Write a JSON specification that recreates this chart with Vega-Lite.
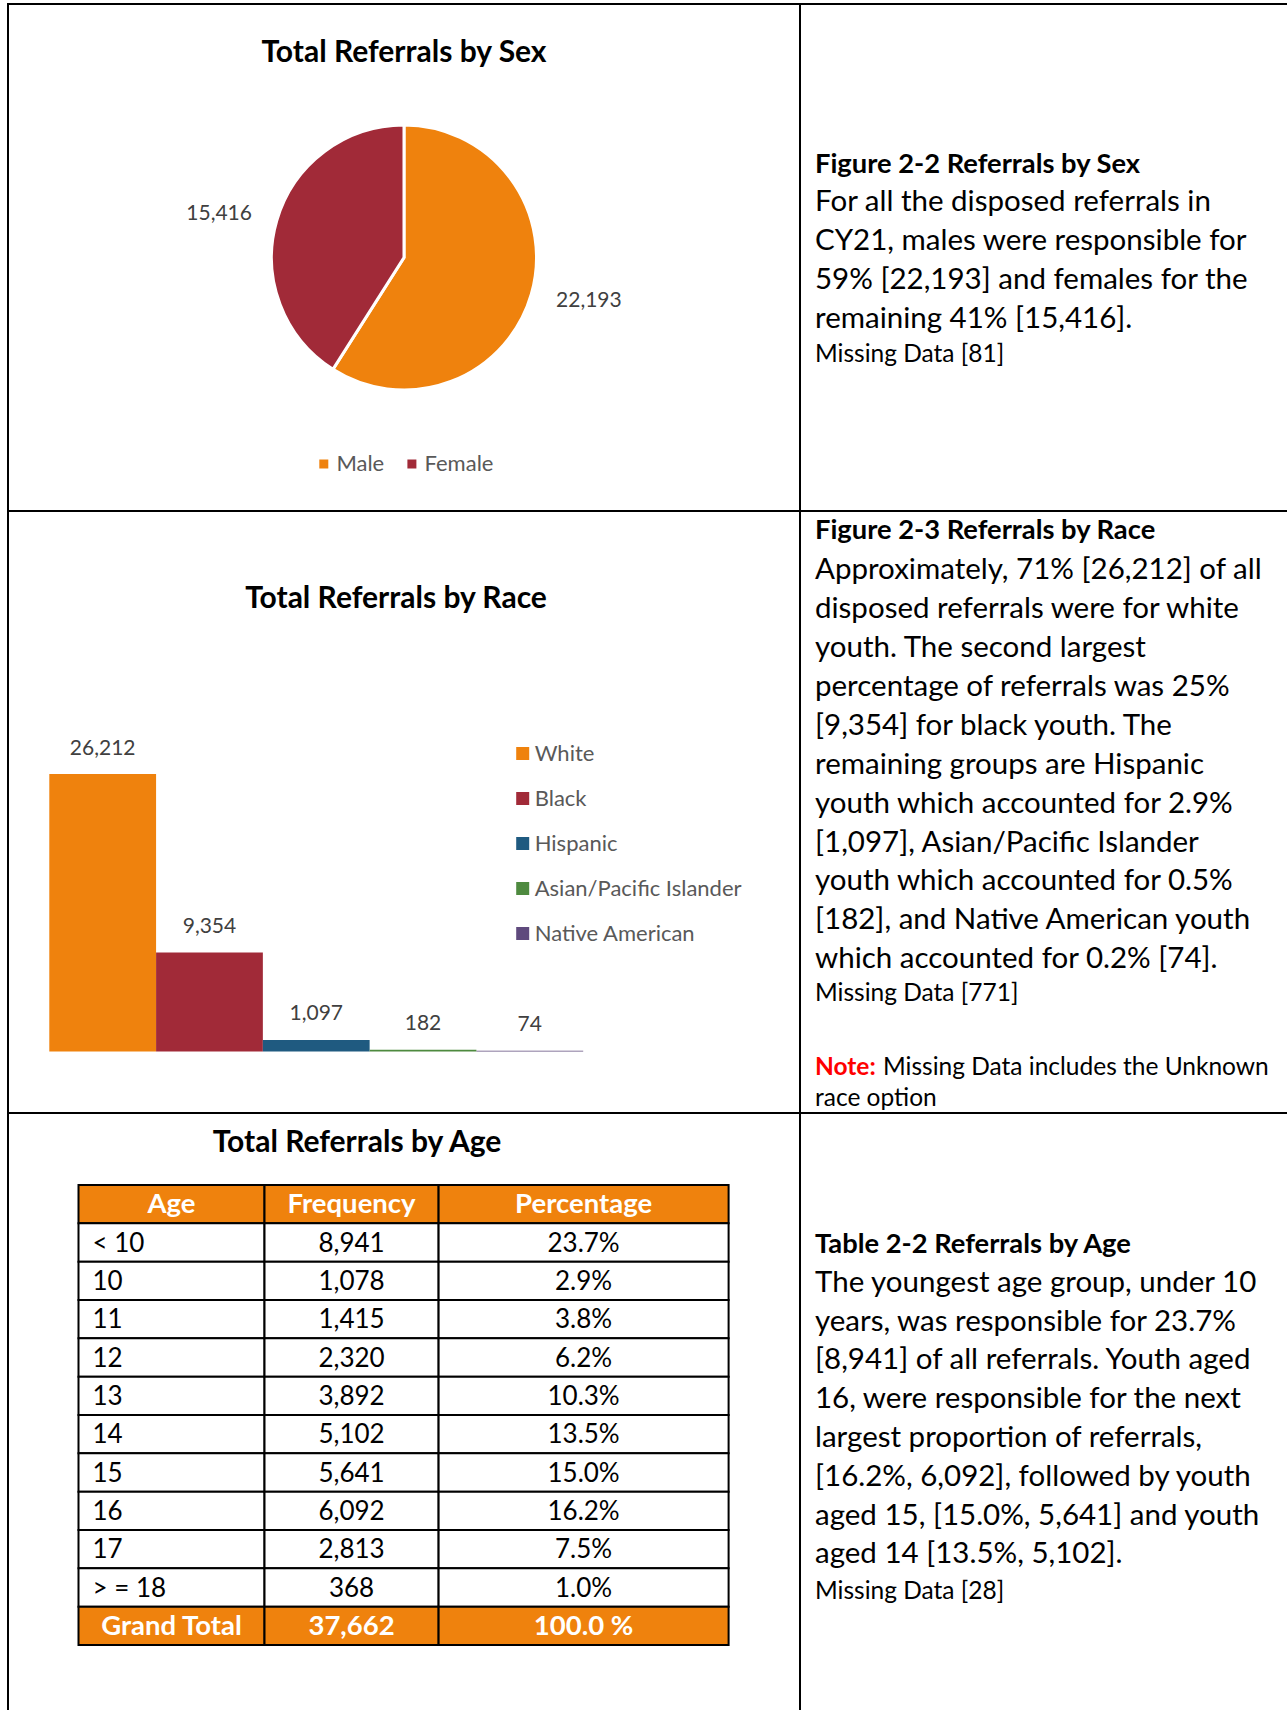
{
  "$schema": "https://vega.github.io/schema/vega-lite/v6.json",
  "background": "white",
  "padding": {"left": 7, "top": 3, "right": 0, "bottom": 0},
  "columns": 2,
  "spacing": 0,
  "bounds": "flush",
  "align": "each",
  "resolve": {"scale": {"color": "independent", "theta": "independent"}, "legend": {"color": "independent"}},
  "config": {
    "font": "Lato",
    "view": {"stroke": "black", "strokeWidth": 2},
    "title": {"font": "Lato", "fontWeight": "bold", "fontSize": 30, "color": "black", "anchor": "middle", "frame": "group", "baseline": "middle"}
  },
  "concat": [
        {
          "width": 792,
          "height": 507,
          "view": {"stroke": "black", "strokeWidth": 2},
          "title": {"text": "Total Referrals by Sex", "offset": -63.6},
          "data": {"values": [{"sex": "Male", "count": 22193}, {"sex": "Female", "count": 15416}]},
          "encoding": {
            "order": {"field": "sex", "sort": "descending"},
            "color": {
              "field": "sex",
              "type": "nominal",
              "scale": {"domain": ["Male", "Female"], "range": ["#EF820D", "#A12A38"]},
              "legend": {"orient": "none", "legendX": 304.8, "legendY": 449, "direction": "horizontal", "title": null, "symbolType": "square", "symbolSize": 81, "symbolStrokeWidth": 0, "labelFontSize": 22, "labelColor": "#595959", "labelOffset": 1.6, "columnPadding": 16.1, "padding": 0, "labelLimit": 300}
            }
          },
          "resolve": {"scale": {"theta": "independent"}},
          "layer": [
            {
              "mark": {"type": "arc", "radius": 132.5, "stroke": "white", "strokeWidth": 3},
              "encoding": {"theta": {"field": "count", "type": "quantitative", "stack": true}}
            },
            {
              "mark": {"type": "text", "radius": 190, "fontSize": 21},
              "encoding": {
                "theta": {"field": "count", "type": "quantitative", "stack": true, "scale": {"range": [-0.05, 6.2332]}},
                "text": {"field": "count", "type": "quantitative", "format": ","},
                "color": {"value": "#404040"}
              }
            }
          ]
        },
        {
          "width": 487,
          "height": 507,
          "view": {"stroke": "black", "strokeWidth": 2, "strokeDash": [487, 507]},
          "layer": [
            {
              "data": {"values": [{"line": 0, "text": "Figure 2-2 Referrals by Sex"}]},
              "mark": {"type": "text", "align": "left", "baseline": "middle", "fontWeight": "bold", "fontSize": 27.3, "color": "black", "dy": 2},
              "encoding": {
                "x": {"value": 15},
                "y": {"field": "line", "type": "quantitative", "scale": {"domain": [0, 1], "range": [158.5, 197.7], "zero": false, "nice": false}, "axis": null},
                "text": {"field": "text"}
              }
            },
            {
              "data": {"values": [
                {"line": 1, "text": "For all the disposed referrals in"},
                {"line": 2, "text": "CY21, males were responsible for"},
                {"line": 3, "text": "59% [22,193] and females for the"},
                {"line": 4, "text": "remaining 41% [15,416]."}
              ]},
              "mark": {"type": "text", "align": "left", "baseline": "middle", "fontSize": 29.5, "color": "black"},
              "encoding": {
                "x": {"value": 15},
                "y": {"field": "line", "type": "quantitative", "scale": {"domain": [0, 1], "range": [158.5, 197.7], "zero": false, "nice": false}, "axis": null},
                "text": {"field": "text"}
              }
            },
            {
              "data": {"values": [{"line": 5, "text": "Missing Data [81]"}]},
              "mark": {"type": "text", "align": "left", "baseline": "middle", "fontSize": 24.5, "color": "black", "dy": -4},
              "encoding": {
                "x": {"value": 15},
                "y": {"field": "line", "type": "quantitative", "scale": {"domain": [0, 1], "range": [158.5, 197.7], "zero": false, "nice": false}, "axis": null},
                "text": {"field": "text"}
              }
            }
          ]
        },
        {
          "width": 792,
          "height": 602,
          "view": {"stroke": "black", "strokeWidth": 2},
          "title": {"text": "Total Referrals by Race", "offset": -103.2, "dx": -8},
          "data": {"values": [
            {"race": "White", "count": 26212},
            {"race": "Black", "count": 9354},
            {"race": "Hispanic", "count": 1097},
            {"race": "Asian/Pacific Islander", "count": 182},
            {"race": "Native American", "count": 74}
          ]},
          "encoding": {
            "x": {"field": "race", "type": "nominal", "sort": null, "scale": {"range": [41.3, 575.2], "paddingInner": 0, "paddingOuter": 0}, "axis": null},
            "y": {"field": "count", "type": "quantitative", "scale": {"domain": [0, 26212], "range": [540.6, 263], "nice": false, "zero": true}, "axis": null}
          },
          "layer": [
            {
              "mark": {"type": "bar"},
              "encoding": {
                "color": {
                  "field": "race",
                  "type": "nominal",
                  "scale": {"domain": ["White", "Black", "Hispanic", "Asian/Pacific Islander", "Native American"], "range": ["#EF820D", "#A12A38", "#1F5A80", "#4E8A3F", "#5F4A7D"]},
                  "legend": {"orient": "none", "legendX": 503.7, "legendY": 231.5, "direction": "vertical", "title": null, "symbolType": "square", "symbolSize": 169, "symbolStrokeWidth": 0, "labelFontSize": 22, "labelColor": "#595959", "labelOffset": 1, "rowPadding": 23, "padding": 0, "labelLimit": 400}
                }
              }
            },
            {
              "mark": {"type": "text", "dy": -25.5, "fontSize": 21, "color": "#404040", "baseline": "middle"},
              "encoding": {"text": {"field": "count", "type": "quantitative", "format": ","}}
            }
          ]
        },
        {
          "width": 487,
          "height": 602,
          "view": {"stroke": "black", "strokeWidth": 2, "strokeDash": [487, 602]},
          "layer": [
            {
              "data": {"values": [{"line": 0, "text": "Figure 2-3 Referrals by Race"}]},
              "mark": {"type": "text", "align": "left", "baseline": "middle", "fontWeight": "bold", "fontSize": 27.3, "color": "black", "dy": 1},
              "encoding": {
                "x": {"value": 15},
                "y": {"field": "line", "type": "quantitative", "scale": {"domain": [0, 1], "range": [19.3, 58.2], "zero": false, "nice": false}, "axis": null},
                "text": {"field": "text"}
              }
            },
            {
              "data": {"values": [
                {"line": 1, "text": "Approximately, 71% [26,212] of all"},
                {"line": 2, "text": "disposed referrals were for white"},
                {"line": 3, "text": "youth. The second largest"},
                {"line": 4, "text": "percentage of referrals was 25%"},
                {"line": 5, "text": "[9,354] for black youth. The"},
                {"line": 6, "text": "remaining groups are Hispanic"},
                {"line": 7, "text": "youth which accounted for 2.9%"},
                {"line": 8, "text": "[1,097], Asian/Pacific Islander"},
                {"line": 9, "text": "youth which accounted for 0.5%"},
                {"line": 10, "text": "[182], and Native American youth"},
                {"line": 11, "text": "which accounted for 0.2% [74]."}
              ]},
              "mark": {"type": "text", "align": "left", "baseline": "middle", "fontSize": 29.5, "color": "black", "dy": 1},
              "encoding": {
                "x": {"value": 15},
                "y": {"field": "line", "type": "quantitative", "scale": {"domain": [0, 1], "range": [19.3, 58.2], "zero": false, "nice": false}, "axis": null},
                "text": {"field": "text"}
              }
            },
            {
              "data": {"values": [{"line": 12, "text": "Missing Data [771]"}]},
              "mark": {"type": "text", "align": "left", "baseline": "middle", "fontSize": 24.5, "color": "black", "dy": -3},
              "encoding": {
                "x": {"value": 15},
                "y": {"field": "line", "type": "quantitative", "scale": {"domain": [0, 1], "range": [19.3, 58.2], "zero": false, "nice": false}, "axis": null},
                "text": {"field": "text"}
              }
            },
            {
              "data": {"values": [{"line": 14, "text": "Note:"}]},
              "mark": {"type": "text", "align": "left", "baseline": "middle", "fontSize": 24.5, "fontWeight": "bold", "color": "#FF0000", "dy": -7},
              "encoding": {
                "x": {"value": 15},
                "y": {"field": "line", "type": "quantitative", "scale": {"domain": [0, 1], "range": [19.3, 58.2], "zero": false, "nice": false}, "axis": null},
                "text": {"field": "text"}
              }
            },
            {
              "data": {"values": [{"line": 14, "text": "Missing Data includes the Unknown"}]},
              "mark": {"type": "text", "align": "left", "baseline": "middle", "fontSize": 24.5, "color": "black", "dy": -7, "dx": 68},
              "encoding": {
                "x": {"value": 15},
                "y": {"field": "line", "type": "quantitative", "scale": {"domain": [0, 1], "range": [19.3, 58.2], "zero": false, "nice": false}, "axis": null},
                "text": {"field": "text"}
              }
            },
            {
              "data": {"values": [{"line": 15, "text": "race option"}]},
              "mark": {"type": "text", "align": "left", "baseline": "middle", "fontSize": 24.5, "color": "black", "dy": -15},
              "encoding": {
                "x": {"value": 15},
                "y": {"field": "line", "type": "quantitative", "scale": {"domain": [0, 1], "range": [19.3, 58.2], "zero": false, "nice": false}, "axis": null},
                "text": {"field": "text"}
              }
            }
          ]
        },
        {
          "width": 792,
          "height": 597,
          "view": {"stroke": "black", "strokeWidth": 2, "strokeDash": [1389, 792, 597]},
          "title": {"text": "Total Referrals by Age", "offset": -44.7, "dx": -47},
          "data": {"values": [
            {"age": "Age", "frequency": "Frequency", "percentage": "Percentage"},
            {"age": "< 10", "frequency": "8,941", "percentage": "23.7%"},
            {"age": "10", "frequency": "1,078", "percentage": "2.9%"},
            {"age": "11", "frequency": "1,415", "percentage": "3.8%"},
            {"age": "12", "frequency": "2,320", "percentage": "6.2%"},
            {"age": "13", "frequency": "3,892", "percentage": "10.3%"},
            {"age": "14", "frequency": "5,102", "percentage": "13.5%"},
            {"age": "15", "frequency": "5,641", "percentage": "15.0%"},
            {"age": "16", "frequency": "6,092", "percentage": "16.2%"},
            {"age": "17", "frequency": "2,813", "percentage": "7.5%"},
            {"age": "> = 18", "frequency": "368", "percentage": "1.0%"},
            {"age": "Grand Total", "frequency": "37,662", "percentage": "100.0 %"}
          ]},
          "resolve": {"scale": {"x": "independent"}},
          "encoding": {
            "y": {"field": "age", "type": "nominal", "sort": null, "scale": {"type": "band", "domain": ["Age", "< 10", "10", "11", "12", "13", "14", "15", "16", "17", "> = 18", "Grand Total"], "range": [72, 532], "paddingInner": 0, "paddingOuter": 0}, "axis": null}
          },
          "layer": [
            {
              "mark": {"type": "rect", "stroke": "black", "strokeWidth": 2},
              "encoding": {
                "x": {"datum": "Age", "type": "nominal", "scale": {"type": "band", "range": [70.5, 256.5], "paddingInner": 0, "paddingOuter": 0}, "axis": null},
                "color": {"condition": {"test": "datum.age === 'Age' || datum.age === 'Grand Total'", "value": "#EF820D"}, "value": "white"}
              }
            },
            {
              "mark": {"type": "rect", "stroke": "black", "strokeWidth": 2},
              "encoding": {
                "x": {"datum": "Frequency", "type": "nominal", "scale": {"type": "band", "range": [256.5, 430.6], "paddingInner": 0, "paddingOuter": 0}, "axis": null},
                "color": {"condition": {"test": "datum.age === 'Age' || datum.age === 'Grand Total'", "value": "#EF820D"}, "value": "white"}
              }
            },
            {
              "mark": {"type": "rect", "stroke": "black", "strokeWidth": 2},
              "encoding": {
                "x": {"datum": "Percentage", "type": "nominal", "scale": {"type": "band", "range": [430.6, 720.6], "paddingInner": 0, "paddingOuter": 0}, "axis": null},
                "color": {"condition": {"test": "datum.age === 'Age' || datum.age === 'Grand Total'", "value": "#EF820D"}, "value": "white"}
              }
            },
            {
              "transform": [{"filter": "datum.age !== 'Age' && datum.age !== 'Grand Total'"}],
              "mark": {"type": "text", "align": "left", "baseline": "middle", "dx": -79, "dy": 1, "fontSize": 26, "color": "black"},
              "encoding": {
                "x": {"datum": "Age", "type": "nominal", "scale": {"type": "band", "range": [70.5, 256.5], "paddingInner": 0, "paddingOuter": 0}, "axis": null},
                "text": {"field": "age"}
              }
            },
            {
              "transform": [{"filter": "datum.age !== 'Age' && datum.age !== 'Grand Total'"}],
              "mark": {"type": "text", "align": "center", "baseline": "middle", "dy": 1, "fontSize": 26, "color": "black"},
              "encoding": {
                "x": {"datum": "Frequency", "type": "nominal", "scale": {"type": "band", "range": [256.5, 430.6], "paddingInner": 0, "paddingOuter": 0}, "axis": null},
                "text": {"field": "frequency"}
              }
            },
            {
              "transform": [{"filter": "datum.age !== 'Age' && datum.age !== 'Grand Total'"}],
              "mark": {"type": "text", "align": "center", "baseline": "middle", "dy": 1, "fontSize": 26, "color": "black"},
              "encoding": {
                "x": {"datum": "Percentage", "type": "nominal", "scale": {"type": "band", "range": [430.6, 720.6], "paddingInner": 0, "paddingOuter": 0}, "axis": null},
                "text": {"field": "percentage"}
              }
            },
            {
              "transform": [{"filter": "datum.age === 'Age' || datum.age === 'Grand Total'"}],
              "mark": {"type": "text", "align": "center", "baseline": "middle", "dy": 1, "fontSize": 27.5, "fontWeight": "bold", "color": "white"},
              "encoding": {
                "x": {"datum": "Age", "type": "nominal", "scale": {"type": "band", "range": [70.5, 256.5], "paddingInner": 0, "paddingOuter": 0}, "axis": null},
                "text": {"field": "age"}
              }
            },
            {
              "transform": [{"filter": "datum.age === 'Age' || datum.age === 'Grand Total'"}],
              "mark": {"type": "text", "align": "center", "baseline": "middle", "dy": 1, "fontSize": 27.5, "fontWeight": "bold", "color": "white"},
              "encoding": {
                "x": {"datum": "Frequency", "type": "nominal", "scale": {"type": "band", "range": [256.5, 430.6], "paddingInner": 0, "paddingOuter": 0}, "axis": null},
                "text": {"field": "frequency"}
              }
            },
            {
              "transform": [{"filter": "datum.age === 'Age' || datum.age === 'Grand Total'"}],
              "mark": {"type": "text", "align": "center", "baseline": "middle", "dy": 1, "fontSize": 27.5, "fontWeight": "bold", "color": "white"},
              "encoding": {
                "x": {"datum": "Percentage", "type": "nominal", "scale": {"type": "band", "range": [430.6, 720.6], "paddingInner": 0, "paddingOuter": 0}, "axis": null},
                "text": {"field": "percentage"}
              }
            }
          ]
        },
        {
          "width": 487,
          "height": 597,
          "view": {"stroke": "black", "strokeWidth": 2, "strokeDash": [487, 1681]},
          "layer": [
            {
              "data": {"values": [{"line": 0, "text": "Table 2-2 Referrals by Age"}]},
              "mark": {"type": "text", "align": "left", "baseline": "middle", "fontWeight": "bold", "fontSize": 27.3, "color": "black", "dy": 1},
              "encoding": {
                "x": {"value": 15},
                "y": {"field": "line", "type": "quantitative", "scale": {"domain": [0, 1], "range": [131, 169.8], "zero": false, "nice": false}, "axis": null},
                "text": {"field": "text"}
              }
            },
            {
              "data": {"values": [
                {"line": 1, "text": "The youngest age group, under 10"},
                {"line": 2, "text": "years, was responsible for 23.7%"},
                {"line": 3, "text": "[8,941] of all referrals. Youth aged"},
                {"line": 4, "text": "16, were responsible for the next"},
                {"line": 5, "text": "largest proportion of referrals,"},
                {"line": 6, "text": "[16.2%, 6,092], followed by youth"},
                {"line": 7, "text": "aged 15, [15.0%, 5,641] and youth"},
                {"line": 8, "text": "aged 14 [13.5%, 5,102]."}
              ]},
              "mark": {"type": "text", "align": "left", "baseline": "middle", "fontSize": 29.5, "color": "black"},
              "encoding": {
                "x": {"value": 15},
                "y": {"field": "line", "type": "quantitative", "scale": {"domain": [0, 1], "range": [131, 169.8], "zero": false, "nice": false}, "axis": null},
                "text": {"field": "text"}
              }
            },
            {
              "data": {"values": [{"line": 9, "text": "Missing Data [28]"}]},
              "mark": {"type": "text", "align": "left", "baseline": "middle", "fontSize": 24.5, "color": "black", "dy": -1},
              "encoding": {
                "x": {"value": 15},
                "y": {"field": "line", "type": "quantitative", "scale": {"domain": [0, 1], "range": [131, 169.8], "zero": false, "nice": false}, "axis": null},
                "text": {"field": "text"}
              }
            }
          ]
        }
  ]
}
